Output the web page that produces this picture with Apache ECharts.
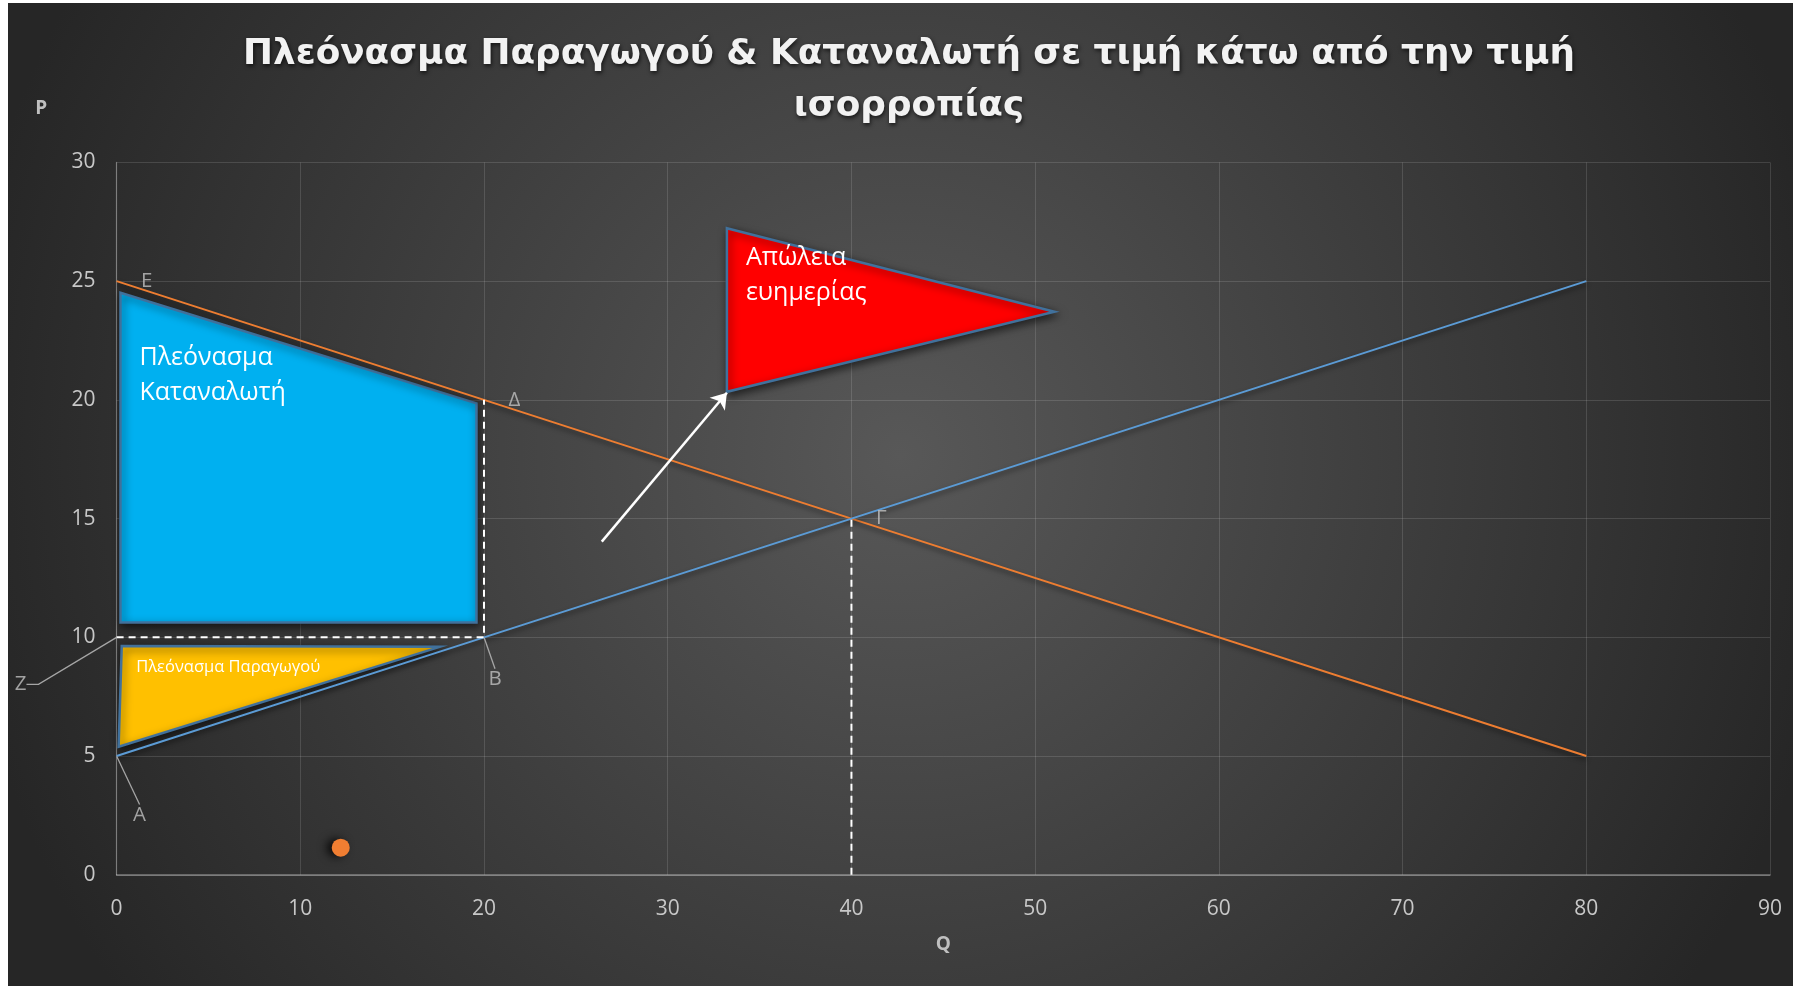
<!DOCTYPE html>
<html><head><meta charset="utf-8">
<script src="https://cdn.jsdelivr.net/npm/echarts@6/dist/echarts.min.js"></script>
<style>
html,body{margin:0;padding:0;background:#fff;width:1793px;height:986px;overflow:hidden}
#bg{position:absolute;left:8px;top:3px;width:1785px;height:983px;background:radial-gradient(circle 950px at 50% 46%, #585858 0%, #262626 100%)}
#main{position:absolute;left:0;top:0;width:1793px;height:986px}
</style></head><body><div id="bg"></div><div id="main"></div>
<script>
// ---- data ----
const qTicks = [0, 10, 20, 30, 40, 50, 60, 70, 80, 90];
const pTicks = [0, 5, 10, 15, 20, 25, 30];
const demandQ = [0, 20, 40, 80];
const demandP = [25, 20, 15, 5];
const supplyQ = [0, 20, 40, 80];
const supplyP = [5, 10, 15, 25];
const guideZB = [[0, 10], [20, 10], [20, 20]];
const guideGamma = [[40, 0], [40, 15]];
const namedPoints = [{ name: 'E', q: 0, p: 25 }, { name: 'Δ', q: 20, p: 20 }, { name: 'Γ', q: 40, p: 15 }];
const leaderPoints = [{ name: 'A', q: 0, p: 5 }, { name: 'B', q: 20, p: 10 }];
const zPoint = [{ name: 'Z', q: 0, p: 10 }];
const dotPoint = [[12.2, 1.14]];
const consumerSurplusShape = [[0.21, 24.51], [19.59, 19.85], [19.59, 10.62], [0.21, 10.62]];
const producerSurplusShape = [[0.28, 9.63], [17.6, 9.6], [0.11, 5.39]];
const deadweightShape = [[33.22, 27.23], [51.05, 23.71], [33.22, 20.34]];
const arrowFrom = [26.41, 14.03];
const arrowTo = [33.22, 20.30];
const titleText = 'Πλεόνασμα Παραγωγού & Καταναλωτή σε τιμή κάτω από την τιμή\nισορροπίας';

// ---- styles ----
const FONT = "'Open Sans', 'Noto Sans', sans-serif";
const TITLE_FONT = "'DejaVu Sans', 'Open Sans', sans-serif";
const leaderOffsets = { A: [23, 59], B: [11, 42] };
const zOffset = [-96, 47];
const lineShadow = { shadowColor: 'rgba(0,0,0,0.55)', shadowBlur: 5, shadowOffsetY: 3 };

function polygonSeries(name, verts, fill, text, fontSize, lineHeight, textOffset) {
  return {
    type: 'custom', name: name, coordinateSystem: 'cartesian2d',
    data: [verts[0]], z: 3,
    renderItem: function (params, api) {
      const pts = verts.map(v => api.coord(v));
      return {
        type: 'group',
        children: [
          { type: 'polygon', shape: { points: pts },
            style: { fill: fill, stroke: '#41719C', lineWidth: 2.5, lineJoin: 'miter',
                     shadowBlur: 8, shadowColor: 'rgba(0,0,0,0.6)', shadowOffsetX: 2, shadowOffsetY: 3 } },
          { type: 'text', x: pts[0][0] + textOffset[0], y: pts[0][1] + textOffset[1],
            style: { text: text, fill: '#ffffff', fontSize: fontSize, fontFamily: FONT,
                     lineHeight: lineHeight, align: 'left', verticalAlign: 'top' } }
        ]
      };
    }
  };
}

const chart = echarts.init(document.getElementById('main'), null, { renderer: 'canvas' });
const option = {
  backgroundColor: 'transparent',
  animation: false,
  title: {
    text: titleText, left: 904, top: 24, textAlign: 'center',
    textStyle: { color: '#f2f2f2', fontSize: 35.8, fontWeight: 'bold', fontFamily: TITLE_FONT, lineHeight: 52,
                 textShadowColor: 'rgba(0,0,0,0.7)', textShadowBlur: 4, textShadowOffsetX: 1, textShadowOffsetY: 2 }
  },
  grid: { left: 116.6, right: 23, top: 162.4, bottom: 111.2, containLabel: false },
  xAxis: {
    type: 'value', min: qTicks[0], max: qTicks[qTicks.length - 1], interval: qTicks[1] - qTicks[0],
    name: 'Q', nameLocation: 'middle', nameGap: 60,
    nameTextStyle: { color: '#bfbfbf', fontSize: 19, fontWeight: 'bold', fontFamily: FONT },
    axisLine: { show: true, lineStyle: { color: 'rgba(255,255,255,0.38)', width: 1.5 } },
    axisTick: { show: false },
    axisLabel: { color: '#c8c8c8', fontSize: 21, fontFamily: FONT, margin: 24 },
    splitLine: { show: true, lineStyle: { color: 'rgba(255,255,255,0.13)', width: 1 } }
  },
  yAxis: {
    type: 'value', min: pTicks[0], max: pTicks[pTicks.length - 1], interval: pTicks[1] - pTicks[0],
    name: 'P', nameLocation: 'end', nameGap: 54,
    nameTextStyle: { color: '#bfbfbf', fontSize: 19, fontWeight: 'bold', fontFamily: FONT,
                     align: 'center', verticalAlign: 'middle', padding: [0, 151, 0, 0] },
    axisLine: { show: true, lineStyle: { color: 'rgba(255,255,255,0.3)', width: 1.2 } },
    axisTick: { show: false },
    axisLabel: { color: '#c8c8c8', fontSize: 21, fontFamily: FONT, margin: 21 },
    splitLine: { show: true, lineStyle: { color: 'rgba(255,255,255,0.13)', width: 1 } }
  },
  series: [
    polygonSeries('Πλεόνασμα Καταναλωτή', consumerSurplusShape, '#00B0F0', 'Πλεόνασμα\nΚαταναλωτή', 25, 35, [19, 48]),
    polygonSeries('Πλεόνασμα Παραγωγού', producerSurplusShape, '#FFC000', 'Πλεόνασμα Παραγωγού', 16.5, 20, [14.5, 11.5]),
    polygonSeries('Απώλεια ευημερίας', deadweightShape, '#FF0000', 'Απώλεια\nευημερίας', 25, 35, [19, 12]),
    {
      type: 'line', name: 'Ζήτηση', data: demandQ.map((q, i) => [q, demandP[i]]),
      showSymbol: false, z: 4,
      lineStyle: Object.assign({ color: '#ED7D31', width: 2 }, lineShadow), itemStyle: { color: '#ED7D31' }
    },
    {
      type: 'line', name: 'Προσφορά', data: supplyQ.map((q, i) => [q, supplyP[i]]),
      showSymbol: false, z: 4,
      lineStyle: Object.assign({ color: '#5B9BD5', width: 2 }, lineShadow), itemStyle: { color: '#5B9BD5' }
    },
    {
      type: 'line', name: 'guideZB', data: guideZB, showSymbol: false, z: 5,
      lineStyle: { color: '#ffffff', width: 2, type: [7, 5] }
    },
    {
      type: 'line', name: 'guideGamma', data: guideGamma, showSymbol: false, z: 5,
      lineStyle: { color: '#ffffff', width: 2, type: [7, 5] }
    },
    {
      type: 'scatter', name: 'dot', data: dotPoint, symbolSize: 18, z: 6,
      itemStyle: { color: '#F07E32', opacity: 1, shadowColor: 'rgba(0,0,0,0.85)', shadowBlur: 10, shadowOffsetX: -5, shadowOffsetY: 0 }
    },
    {
      type: 'scatter', name: 'labels', z: 7,
      data: namedPoints.map(d => ({ name: d.name, value: [d.q, d.p] })),
      symbolSize: 1, itemStyle: { color: 'rgba(0,0,0,0)' },
      label: { show: true, formatter: '{b}', position: 'right', distance: 24, color: '#c0c0c0', fontSize: 20.5, fontFamily: FONT }
    },
    {
      type: 'scatter', name: 'leaderLabels', z: 7,
      data: leaderPoints.map(d => ({ name: d.name, value: [d.q, d.p] })),
      symbolSize: 1, itemStyle: { color: 'rgba(0,0,0,0)' },
      label: { show: true, formatter: '{b}', position: 'inside', color: '#c0c0c0', fontSize: 20.5, fontFamily: FONT },
      labelLine: { show: true, length2: 0, lineStyle: { color: '#a6a6a6', width: 1.3 } },
      labelLayout: function (p) { const o = leaderOffsets[p.text] || [0, 0]; return { dx: o[0], dy: o[1] }; }
    },
    {
      type: 'scatter', name: 'zLabel', z: 7,
      data: zPoint.map(d => ({ name: d.name, value: [d.q, d.p] })),
      symbolSize: 1, itemStyle: { color: 'rgba(0,0,0,0)' },
      label: { show: true, formatter: '{b}', position: 'inside', color: '#c0c0c0', fontSize: 20.5, fontFamily: FONT },
      labelLine: { show: true, length2: 12, lineStyle: { color: '#a6a6a6', width: 1.3 } },
      labelLayout: function () { return { dx: zOffset[0], dy: zOffset[1] }; }
    },
    {
      type: 'lines', name: 'arrow', coordinateSystem: 'cartesian2d', z: 8,
      data: [{ coords: [arrowFrom, arrowTo] }],
      symbol: ['none', 'arrow'], symbolSize: 15,
      lineStyle: { color: '#ffffff', width: 2.5, opacity: 1 }
    }
  ]
};
chart.setOption(option);
</script>
</body></html>
